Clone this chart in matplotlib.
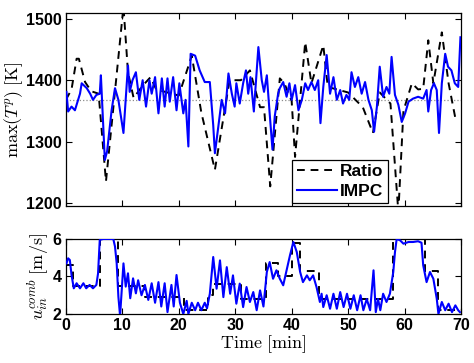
import matplotlib
matplotlib.use('Agg')
import matplotlib.pyplot as plt
import numpy as np

plt.rcParams['font.family'] = ['Liberation Sans', 'DejaVu Sans']
plt.rcParams['mathtext.fontset'] = 'cm'

# --- top panel: max peak temperature [K] ---
t_ratio_T = [0.0, 1.0, 1.9, 2.3, 3.4, 4.5, 5.8, 7.1, 10.2, 11.0, 12.0, 13.5, 15.0, 16.0,
             20.0, 21.6, 22.3, 24.0, 26.4, 29.0, 31.0, 32.6, 34.4, 35.1, 36.2, 37.9,
             38.7, 40.0, 40.6, 42.4, 43.5, 45.6, 46.4, 50.0, 52.6, 54.4, 55.6, 57.5,
             58.9, 59.8, 61.3, 62.4, 63.3, 64.2, 65.1, 66.6, 67.8, 69.0]
T_ratio = [1368, 1385, 1435, 1435, 1397, 1382, 1378, 1235, 1520, 1413, 1371, 1390, 1405,
           1385, 1375, 1420, 1440, 1347, 1254, 1400, 1400, 1416, 1356, 1356, 1227, 1403,
           1395, 1366, 1275, 1462, 1395, 1457, 1389, 1380, 1356, 1314, 1380, 1362,
           1185, 1350, 1395, 1385, 1386, 1465, 1395, 1478, 1395, 1338]

t_impc_T = [0.1, 0.4, 1.0, 1.6, 2.5, 2.8, 3.7, 4.3, 4.8, 5.4, 6.0, 6.2, 6.9, 7.3, 8.1,
            8.7, 9.3, 10.2, 11.0, 11.3, 11.8, 12.4, 13.0, 13.6, 14.2, 14.8, 15.2, 15.8,
            16.4, 17.0, 17.5, 18.0, 18.4, 19.0, 19.6, 20.1, 20.8, 21.2, 21.7, 22.1, 22.9,
            23.7, 24.6, 25.5, 26.1, 26.4, 27.0, 27.6, 28.2, 28.8, 29.4, 29.9, 30.2, 30.8,
            31.4, 31.9, 32.3, 32.7, 33.3, 34.1, 34.7, 35.1, 35.6, 36.1, 36.6, 37.0, 37.6,
            37.9, 38.5, 39.1, 39.6, 40.0, 40.6, 41.2, 41.8, 42.4, 42.9, 43.5, 44.1, 44.7,
            45.1, 45.6, 46.2, 46.8, 47.4, 48.0, 48.6, 49.1, 49.7, 50.2, 50.6, 51.2, 51.8,
            52.4, 53.0, 53.6, 54.2, 54.6, 55.1, 55.6, 56.2, 56.8, 57.3, 57.7, 58.3, 58.9,
            59.5, 60.1, 60.7, 61.5, 62.4, 63.3, 63.9, 64.2, 64.7, 65.2, 65.7, 66.1, 66.6,
            67.2, 67.7, 68.3, 68.9, 69.5, 69.9]
T_impc = [1381, 1349, 1357, 1351, 1378, 1395, 1387, 1378, 1368, 1376, 1378, 1408, 1270,
          1284, 1351, 1387, 1368, 1314, 1424, 1381, 1400, 1413, 1368, 1400, 1357, 1400,
          1378, 1405, 1346, 1403, 1357, 1403, 1365, 1405, 1351, 1395, 1346, 1368, 1292,
          1443, 1440, 1416, 1397, 1397, 1327, 1281, 1324, 1368, 1346, 1411, 1378, 1357,
          1395, 1362, 1395, 1416, 1378, 1405, 1349, 1454, 1400, 1381, 1408, 1346, 1287,
          1341, 1378, 1387, 1397, 1373, 1395, 1368, 1392, 1351, 1368, 1395, 1384, 1397,
          1384, 1400, 1330, 1389, 1441, 1378, 1405, 1368, 1384, 1362, 1376, 1368, 1413,
          1389, 1405, 1378, 1397, 1368, 1351, 1316, 1357, 1422, 1373, 1389, 1378, 1438,
          1376, 1360, 1332, 1346, 1365, 1370, 1373, 1370, 1384, 1349, 1384, 1395, 1384,
          1314, 1395, 1443, 1422, 1416, 1395, 1389, 1470]

T_ref = 1368

# --- bottom panel: combustion inlet velocity [m/s] ---
t_ratio_u = [0.0, 1.2, 1.2, 6.0, 6.0, 9.3, 9.3, 14.0, 14.0, 21.0, 21.0, 25.2, 25.2,
             26.0, 26.0, 31.0, 31.0, 35.5, 35.5, 37.5, 37.5, 40.0, 40.0, 41.4, 41.4,
             44.8, 44.8, 58.0, 58.0, 63.6, 63.6, 66.0, 66.0, 70.0]
u_ratio = [4.6, 4.6, 3.5, 3.5, 6.0, 6.0, 3.5, 3.5, 2.9, 2.9, 2.2, 2.2, 3.0,
           3.0, 3.6, 3.6, 2.8, 2.8, 4.7, 4.7, 4.0, 4.0, 5.8, 5.8, 4.3,
           4.3, 2.8, 2.8, 6.0, 6.0, 4.3, 4.3, 2.2, 2.2]

t_impc_u = [0.1, 0.4, 0.7, 1.0, 1.4, 1.9, 2.5, 3.1, 3.6, 4.2, 4.8, 5.4, 5.7, 6.0, 6.6,
            8.4, 8.7, 9.0, 9.3, 9.6, 10.2, 10.6, 11.0, 11.4, 11.9, 12.4, 12.8, 13.4,
            14.0, 14.6, 15.2, 15.8, 16.4, 16.9, 17.5, 18.0, 18.7, 19.1, 19.6, 20.2, 20.8,
            21.4, 21.7, 22.3, 22.9, 23.4, 24.0, 24.6, 25.0, 25.5, 26.1, 26.7, 27.3, 27.9,
            28.5, 29.1, 29.6, 30.2, 30.8, 31.4, 32.0, 32.6, 33.2, 33.8, 34.4, 35.0, 35.6,
            36.1, 36.7, 37.3, 37.9, 38.5, 39.1, 39.7, 40.3, 40.9, 41.5, 42.0, 42.7, 43.2,
            43.8, 44.4, 45.0, 45.3, 45.6, 46.2, 46.8, 47.4, 48.0, 48.6, 49.2, 49.8, 50.4,
            51.0, 51.6, 52.2, 52.7, 53.3, 53.9, 54.5, 54.9, 55.3, 55.7, 56.2, 56.8, 57.4,
            58.0, 58.3, 58.6, 59.2, 59.8, 60.7, 61.5, 62.4, 63.0, 63.3, 63.9, 64.5, 65.1,
            65.7, 66.0, 66.6, 67.2, 67.8, 68.4, 69.0, 69.5, 69.8]
u_impc = [4.70, 4.97, 4.88, 4.08, 3.37, 3.64, 3.37, 3.64, 3.37, 3.55, 3.37, 3.55, 4.17,
          5.95, 6.0, 6.0, 5.6, 4.7, 2.92, 1.9, 4.7, 3.46, 4.17, 2.84, 3.9, 3.1, 3.8,
          3.0, 3.55, 2.75, 3.64, 2.6, 3.7, 2.4, 3.64, 2.1, 3.55, 2.4, 4.08, 2.6, 2.0,
          2.7, 2.0, 2.6, 2.2, 2.6, 2.2, 2.6, 2.3, 3.08, 5.04, 3.35, 4.86, 2.9, 4.5, 3.08,
          4.06, 2.55, 3.62, 2.37, 3.44, 2.64, 3.17, 2.2, 3.26, 2.4, 4.24, 4.77, 3.88,
          4.33, 3.88, 3.53, 4.33, 5.13, 5.84, 5.31, 4.24, 3.7, 4.06, 3.8, 4.06, 3.44,
          2.64, 3.08, 2.37, 3.0, 2.28, 3.08, 2.28, 3.17, 2.37, 3.08, 2.28, 3.0, 2.2, 3.0,
          2.2, 2.8, 2.2, 4.33, 2.1, 2.8, 2.2, 3.08, 2.64, 3.08, 4.24, 5.3, 6.0, 5.93,
          5.75, 5.84, 5.84, 5.88, 5.8, 4.6, 3.7, 4.24, 3.88, 2.82, 2.0, 2.64, 2.2, 2.55,
          2.1, 2.46, 2.2, 2.1]

fig = plt.figure(figsize=(4.74, 3.63), dpi=100)
ax1 = fig.add_axes([0.139, 0.4325, 0.8336, 0.5325])
ax2 = fig.add_axes([0.139, 0.135, 0.8336, 0.2066])

blue = (0.0, 0.0, 1.0)

ax1.axhline(T_ref, color='0.55', linestyle=':', linewidth=0.9, zorder=1)
ax1.plot(t_ratio_T, T_ratio, color='k', linestyle='--', linewidth=1.4,
         dashes=(4, 3), label='Ratio', zorder=2)
ax1.plot(t_impc_T, T_impc, color=blue, linewidth=1.5, label='IMPC', zorder=3)
ax1.set_xlim(0, 70)
ax1.set_ylim(1195, 1510)
ax1.set_yticks([1200, 1300, 1400, 1500])
ax1.set_xticks(np.arange(0, 71, 10))
ax1.set_xticklabels([])
ax1.set_ylabel(r'$\max(T^{p})\ [\mathrm{K}]$', fontsize=13, labelpad=1)
leg = ax1.legend(loc='lower right', bbox_to_anchor=(0.815, 0.015), borderaxespad=0,
                 handlelength=2.3, handletextpad=0.2, borderpad=0.25,
                 labelspacing=0.25, fancybox=False, framealpha=1,
                 edgecolor='k', prop={'weight': 'bold', 'size': 12.5})
leg.get_frame().set_linewidth(0.9)

ax2.plot(t_ratio_u, u_ratio, color='k', linestyle='--', linewidth=1.4,
         dashes=(4, 3), zorder=2)
ax2.plot(t_impc_u, u_impc, color=blue, linewidth=1.5, zorder=3)
ax2.set_xlim(0, 70)
ax2.set_ylim(2, 6)
ax2.set_yticks([2, 4, 6])
ax2.set_xticks(np.arange(0, 71, 10))
ax2.set_xlabel(r'$\mathrm{Time\ [min]}$', fontsize=13, labelpad=0)
ax2.set_ylabel(r'$u_{in}^{comb}\ [\mathrm{m/s}]$', fontsize=13, labelpad=1)

for ax in (ax1, ax2):
    ax.tick_params(direction='in', top=True, right=True, length=4, width=0.8,
                   labelsize=11.5, pad=3)
    for lbl in ax.get_xticklabels() + ax.get_yticklabels():
        lbl.set_fontweight('bold')
    for sp in ax.spines.values():
        sp.set_linewidth(0.9)

fig.savefig('out.png', dpi=100)
